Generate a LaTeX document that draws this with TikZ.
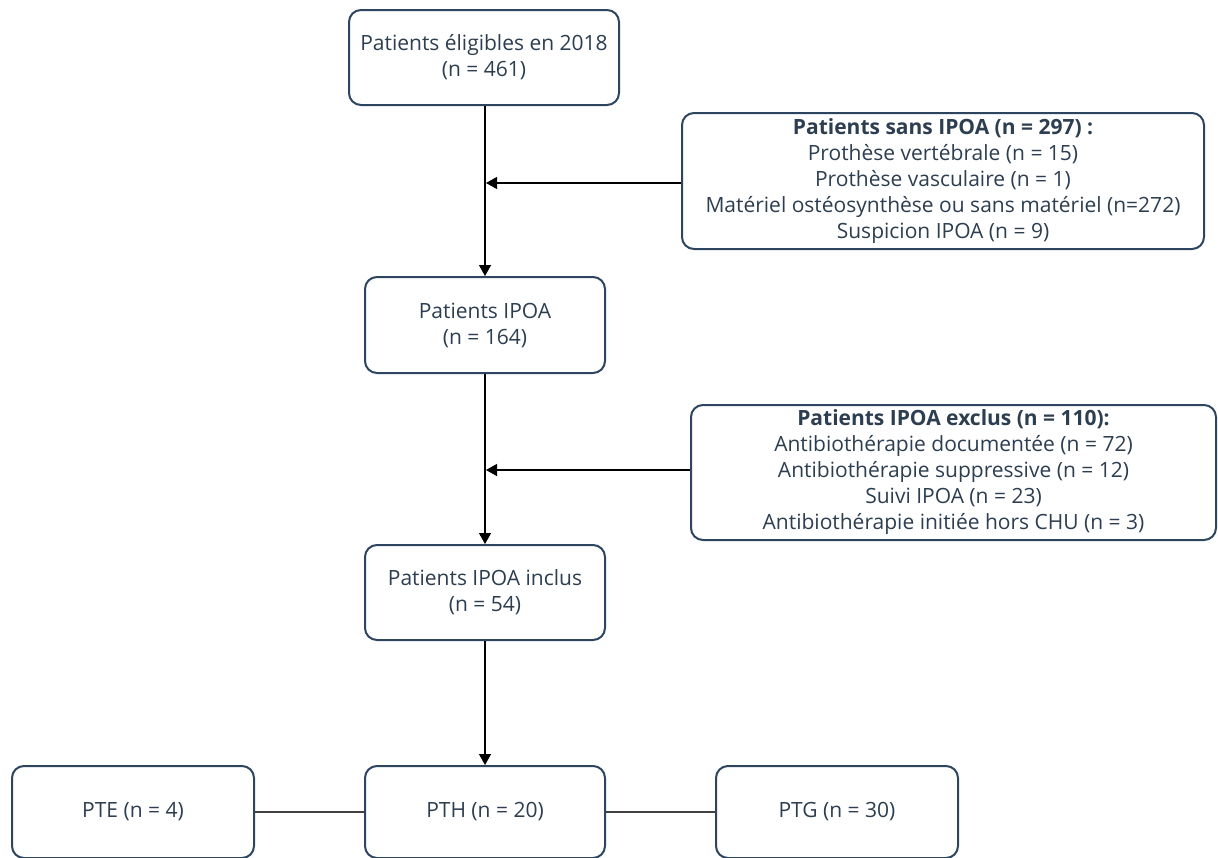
\documentclass[tikz,border=0pt]{standalone}
\usepackage{fontspec}
\setmainfont{Open Sans}
\usetikzlibrary{arrows.meta}
\definecolor{boxline}{HTML}{2E4560}
\definecolor{boxtext}{HTML}{2C3E50}
\tikzset{
  fbox/.style={draw=boxline, line width=2pt, rounded corners=12pt, fill=white,
    text=boxtext, align=center, inner sep=0pt, font=\fontsize{21}{26}\selectfont},
  conn/.style={draw=black, line width=1.3pt, -{Triangle[length=11pt,width=12pt]}},
  link/.style={draw=black!75, line width=1.5pt}
}
\begin{document}
\begin{tikzpicture}[x=1pt,y=-1pt]
\useasboundingbox (0,0) rectangle (1218,857);
\node[fbox, minimum width=270pt, minimum height=95pt] (elig) at (484,57.5) {Patients éligibles en 2018\\(n = 461)};
\node[fbox, minimum width=522pt, minimum height=136pt] (sans) at (943,181) {\textbf{Patients sans IPOA (n = 297) :}\\Prothèse vertébrale (n = 15)\\Prothèse vasculaire (n = 1)\\Matériel ostéosynthèse ou sans matériel (n=272)\\Suspicion IPOA (n = 9)};
\node[fbox, minimum width=240pt, minimum height=96pt] (ipoa) at (485,325) {Patients IPOA\\(n = 164)};
\node[fbox, minimum width=525pt, minimum height=135pt] (exclus) at (953.5,472.5) {\textbf{Patients IPOA exclus (n = 110):}\\Antibiothérapie documentée (n = 72)\\Antibiothérapie suppressive (n = 12)\\Suivi IPOA (n = 23)\\Antibiothérapie initiée hors CHU (n = 3)};
\node[fbox, minimum width=240pt, minimum height=95pt] (inclus) at (485,592.5) {Patients IPOA inclus\\(n = 54)};
\node[fbox, minimum width=242pt, minimum height=92pt] (pte) at (133,812) {PTE (n = 4)};
\node[fbox, minimum width=240pt, minimum height=92pt] (pth) at (485,812) {PTH (n = 20)};
\node[fbox, minimum width=242pt, minimum height=92pt] (ptg) at (837,812) {PTG (n = 30)};
\coordinate (j1) at (486,183);
\coordinate (j2) at (486,470);
\draw[conn] (elig.south -| ipoa.north) -- (ipoa.north);
\draw[conn] (sans.west |- j1) -- (j1);
\draw[conn] (ipoa.south) -- (inclus.north);
\draw[conn] (exclus.west |- j2) -- (j2);
\draw[conn] (inclus.south) -- (pth.north);
\draw[link] (pte.east) -- (pth.west);
\draw[link] (pth.east) -- (ptg.west);
\end{tikzpicture}
\end{document}
